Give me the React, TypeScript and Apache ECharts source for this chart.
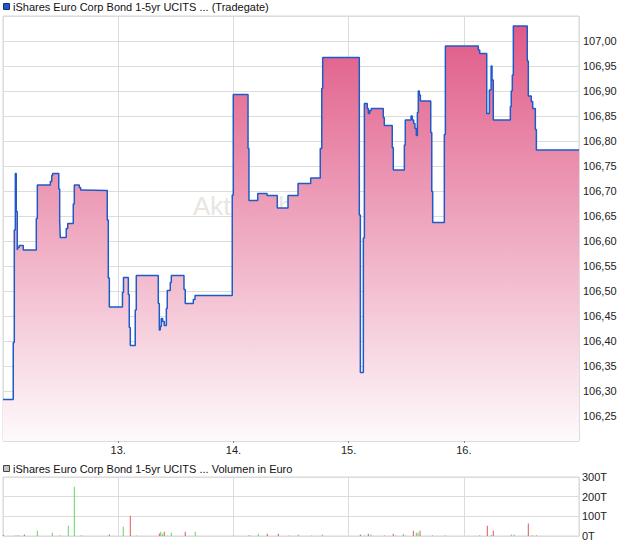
import React, { useEffect, useRef } from "react";
import * as echarts from "echarts";

// Price series (time in days, e.g. 13.5 = 13th noon-ish on chart axis), step chart values in EUR
const priceTimes = [
  12.0, 12.089, 12.098, 12.107, 12.115, 12.124, 12.128, 12.141, 12.176, 12.289,
  12.298, 12.411, 12.423, 12.431, 12.484, 12.492, 12.497, 12.549, 12.562, 12.61,
  12.619, 12.662, 12.674, 12.683, 12.905, 12.914, 12.923, 13.037, 13.046, 13.088,
  13.096, 13.105, 13.148, 13.157, 13.348, 13.357, 13.365, 13.374, 13.386, 13.4,
  13.418, 13.426, 13.452, 13.461, 13.571, 13.582, 13.652, 13.667, 13.99, 13.999,
  14.127, 14.135, 14.211, 14.292, 14.381, 14.474, 14.561, 14.671, 14.754, 14.767,
  14.775, 15.093, 15.102, 15.128, 15.137, 15.162, 15.171, 15.183, 15.197, 15.301,
  15.31, 15.379, 15.388, 15.484, 15.492, 15.542, 15.553, 15.565, 15.576, 15.588,
  15.597, 15.605, 15.614, 15.623, 15.713, 15.722, 15.73, 15.831, 15.84, 16.126,
  16.138, 16.199, 16.222, 16.237, 16.245, 16.256, 16.404, 16.412, 16.421, 16.43,
  16.551, 16.56, 16.586, 16.598, 16.621, 16.63, 17.0,
];
const prices = [
  106.283, 106.397, 106.622, 106.735, 106.659, 106.582, 106.587, 106.591, 106.582, 106.645,
  106.712, 106.719, 106.731, 106.735, 106.704, 106.641, 106.607, 106.625, 106.635, 106.674,
  106.712, 106.707, 106.702, 106.701, 106.642, 106.526, 106.468, 106.497, 106.527, 106.493,
  106.427, 106.391, 106.462, 106.531, 106.475, 106.422, 106.429, 106.445, 106.439, 106.431,
  106.465, 106.501, 106.517, 106.531, 106.503, 106.475, 106.483, 106.491, 106.692, 106.893,
  106.785, 106.681, 106.695, 106.691, 106.666, 106.691, 106.715, 106.726, 106.785, 106.905,
  106.967, 106.652, 106.337, 106.606, 106.875, 106.865, 106.855, 106.861, 106.865, 106.847,
  106.831, 106.787, 106.742, 106.792, 106.842, 106.85, 106.842, 106.835, 106.825, 106.811,
  106.857, 106.9, 106.892, 106.88, 106.817, 106.699, 106.637, 106.813, 106.99, 106.982,
  106.975, 106.855, 106.902, 106.95, 106.922, 106.842, 106.869, 106.9, 106.932, 107.03,
  106.96, 106.89, 106.879, 106.865, 106.823, 106.782, 106.782,
];

// Volume in thousand EUR
const volTimes = [
  12.003, 12.104, 12.124, 12.141, 12.185, 12.298, 12.428, 12.497, 12.567, 12.619,
  12.68, 12.923, 13.044, 13.105, 13.157, 13.357, 13.369, 13.383, 13.4, 13.426,
  13.461, 13.582, 13.669, 13.999, 14.135, 14.144, 14.216, 14.294, 14.39, 14.485,
  14.563, 14.68, 14.772, 15.102, 15.137, 15.171, 15.194, 15.31, 15.388, 15.409,
  15.475, 15.492, 15.562, 15.588, 15.602, 15.62, 15.727, 15.839, 16.138, 16.204,
  16.239, 16.256, 16.412, 16.436, 16.56, 16.595, 16.63,
];
const volumes = [
  5, 3, 3, 3, 7, 27, 17, 3, 52, 250,
  3, 7, 47, 103, 3, 13, 22, 12, 22, 3,
  17, 22, 22, 3, 3, 3, 12, 12, 12, 3,
  7, 3, 7, 7, 3, 12, 7, 3, 12, 3,
  12, 3, 27, 17, 17, 27, 3, 3, 3, 52,
  5, 27, 7, 7, 63, 3, 3,
];
const volDirs = [
  "r", "g", "r", "g", "r", "g", "g", "r", "g", "g",
  "r", "r", "g", "r", "g", "r", "g", "g", "r", "n",
  "g", "r", "g", "g", "r", "g", "g", "r", "r", "g",
  "g", "g", "g", "r", "g", "r", "g", "r", "r", "n",
  "n", "g", "r", "g", "g", "r", "r", "g", "r", "r",
  "g", "r", "g", "g", "r", "r", "r",
];

const dayLabels = ["13.", "14.", "15.", "16."];
const priceTitle = "iShares Euro Corp Bond 1-5yr UCITS ... (Tradegate)";
const volumeTitle = "iShares Euro Corp Bond 1-5yr UCITS ... Volumen in Euro";

const FONT = "'Liberation Sans', Arial, sans-serif";
const dirColor: Record<string, string> = { g: "#5fd85a", r: "#e05656", n: "#aaaaaa" };

export default function App() {
  const ref = useRef<HTMLDivElement>(null);
  useEffect(() => {
    if (!ref.current) return;
    const chart = echarts.init(ref.current, null, { renderer: "svg" });
    const gridLine = { show: true, lineStyle: { color: "#dcdcdc", width: 1 } };
    const option: any = {
      animation: false,
      textStyle: { fontFamily: FONT },
      grid: [
        { left: 3, top: 16, width: 576, height: 425, show: true, borderColor: "#d6d6d6", borderWidth: 1 },
        { left: 3, top: 477, width: 576, height: 59, show: true, borderColor: "#d6d6d6", borderWidth: 1 },
      ],
      xAxis: [
        {
          type: "value", gridIndex: 0, min: 12, max: 17, interval: 1,
          axisLine: { show: false },
          axisTick: { show: true, length: 2, lineStyle: { color: "#888" } },
          splitLine: gridLine,
          axisLabel: {
            showMinLabel: false, showMaxLabel: false, margin: 3,
            color: "#222", fontSize: 11, fontFamily: FONT,
            formatter: (v: number) => dayLabels[Math.round(v) - 13] ?? "",
          },
        },
        {
          type: "value", gridIndex: 1, min: 12, max: 17, interval: 1,
          axisLine: { show: false }, axisTick: { show: false },
          splitLine: gridLine, axisLabel: { show: false },
        },
      ],
      yAxis: [
        {
          type: "value", gridIndex: 0, position: "right", min: 106.2, max: 107.05, interval: 0.05,
          axisLine: { show: false }, axisTick: { show: false },
          splitLine: gridLine,
          axisLabel: {
            showMinLabel: false, showMaxLabel: false, margin: 4,
            color: "#222", fontSize: 11, fontFamily: FONT,
            formatter: (v: number) => v.toFixed(2).replace(".", ","),
          },
        },
        {
          type: "value", gridIndex: 1, position: "right", min: 0, max: 300, interval: 100,
          axisLine: { show: false }, axisTick: { show: false },
          splitLine: gridLine,
          axisLabel: {
            margin: 3, color: "#222", fontSize: 11, fontFamily: FONT,
            formatter: (v: number) => `${v}T`,
          },
        },
      ],
      graphic: [
        {
          type: "text", left: 193, top: 193, z: 1, silent: true,
          style: { text: "Aktiencheck", fontSize: 26, fontFamily: FONT, fill: "#e9e5e0" },
        },
        {
          type: "rect", shape: { x: 3.5, y: 3.5, width: 6, height: 6 },
          style: { fill: "#2358c0", stroke: "#16307a", lineWidth: 1 },
        },
        {
          type: "text", x: 13, y: 7,
          style: { text: priceTitle, fontSize: 11, fontFamily: FONT, fill: "#111", verticalAlign: "middle" },
        },
        {
          type: "rect", shape: { x: 3.5, y: 465.5, width: 6, height: 6 },
          style: { fill: "#c4c4c4", stroke: "#444", lineWidth: 1 },
        },
        {
          type: "text", x: 13, y: 469,
          style: { text: volumeTitle, fontSize: 11, fontFamily: FONT, fill: "#111", verticalAlign: "middle" },
        },
      ],
      series: [
        {
          type: "line", xAxisIndex: 0, yAxisIndex: 0, z: 3,
          step: "end", showSymbol: false, symbol: "none",
          data: priceTimes.map((t, i) => [t, prices[i]]),
          lineStyle: { color: "#1f5bc8", width: 1.5 },
          areaStyle: {
            origin: "start", opacity: 1,
            color: new echarts.graphic.LinearGradient(0, 0, 0, 1, [
              { offset: 0, color: "#e05a87" },
              { offset: 1, color: "#fefafc" },
            ]),
          },
        },
        {
          type: "bar", xAxisIndex: 1, yAxisIndex: 1, barWidth: 1,
          data: volTimes.map((t, i) => ({
            value: [t, volumes[i]],
            itemStyle: { color: dirColor[volDirs[i]] },
          })),
        },
      ],
    };
    chart.setOption(option);
    return () => chart.dispose();
  }, []);
  return (
    <div
      ref={ref}
      style={{ position: "absolute", left: 0, top: 0, width: 620, height: 546, background: "#fff" }}
    />
  );
}
